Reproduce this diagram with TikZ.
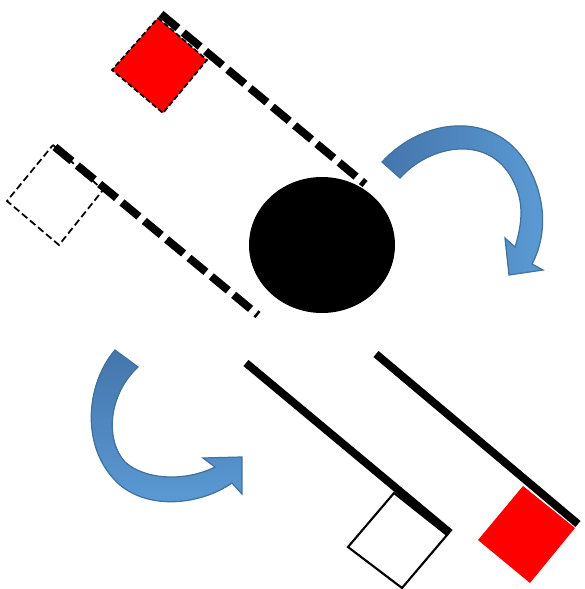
\documentclass[tikz,border=0pt]{standalone}
\usetikzlibrary{calc}
\definecolor{turnblue}{RGB}{91,155,213}
\definecolor{turndark}{RGB}{68,118,172}
\definecolor{turnedge}{RGB}{65,113,156}
\definecolor{flagred}{RGB}{255,0,0}

\begin{document}
\begin{tikzpicture}[x=0.02cm, y=-0.02cm,
    rod/.style={line width=4.5pt, black},
    dashrod/.style={rod, dash pattern=on 12.5pt off 4pt},
    flagbox/.style={line width=1pt, black, line join=miter},
    turnarrow/.style={draw=turnedge, line width=0.7pt}]

\useasboundingbox (0,0) rectangle (585,589);

% Ejes de las barras
\coordinate (topA) at (161,14);   \coordinate (topB) at (365,184);
\coordinate (midA) at (55,147);   \coordinate (midB) at (258,315);
\coordinate (lowA) at (246,363);  \coordinate (lowB) at (450,533);
\coordinate (rgtA) at (376,354);  \coordinate (rgtB) at (578,524);

% Cuadrados
\fill[flagred] (158,18) -- (207,60) -- (163,113) -- (112,70) -- cycle;
\draw[flagbox, dash pattern=on 3pt off 1.5pt] (158,18) -- (207,60) -- (163,113) -- (112,70) -- cycle;
\draw[flagbox, dash pattern=on 4pt off 2pt] (53,145) -- (103,190) -- (59,245) -- (7,201) -- cycle;
\draw[flagbox, line width=1.2pt] (394,493) -- (447,535) -- (402,588) -- (348,547) -- cycle;
\fill[flagred] (523,486) -- (575,528) -- (530,583) -- (478,540) -- cycle;

% Barras
\draw[dashrod] (topA) -- (topB);
\draw[dashrod] (midA) -- (midB);
\draw[rod] (lowA) -- (lowB);
\draw[rod] (rgtA) -- (rgtB);

% Disco central
\fill[black] (322,245) ellipse (73 and 68);

% Flecha curva superior
\shade[left color=turndark, right color=turnblue] (382,162)
  .. controls (425,115) and (500,110) .. (530,170)
  .. controls (548,205) and (545,240) .. (532,264)
  -- (543,270) -- (509,275) -- (505,238) -- (515,247)
  .. controls (525,215) and (522,195) .. (510,175)
  .. controls (485,135) and (430,145) .. (400,178) -- cycle;
\draw[turnarrow] (382,162)
  .. controls (425,115) and (500,110) .. (530,170)
  .. controls (548,205) and (545,240) .. (532,264)
  -- (543,270) -- (509,275) -- (505,238) -- (515,247)
  .. controls (525,215) and (522,195) .. (510,175)
  .. controls (485,135) and (430,145) .. (400,178) -- cycle;

% Flecha curva inferior
\shade[top color=turndark, bottom color=turnblue] (115,350)
  .. controls (85,385) and (80,450) .. (120,485)
  .. controls (150,510) and (200,505) .. (232,483)
  -- (242,494) -- (242,457) -- (203,458) -- (215,467)
  .. controls (185,482) and (145,480) .. (125,462)
  .. controls (105,440) and (108,395) .. (138,367) -- cycle;
\draw[turnarrow] (115,350)
  .. controls (85,385) and (80,450) .. (120,485)
  .. controls (150,510) and (200,505) .. (232,483)
  -- (242,494) -- (242,457) -- (203,458) -- (215,467)
  .. controls (185,482) and (145,480) .. (125,462)
  .. controls (105,440) and (108,395) .. (138,367) -- cycle;

\end{tikzpicture}
\end{document}
